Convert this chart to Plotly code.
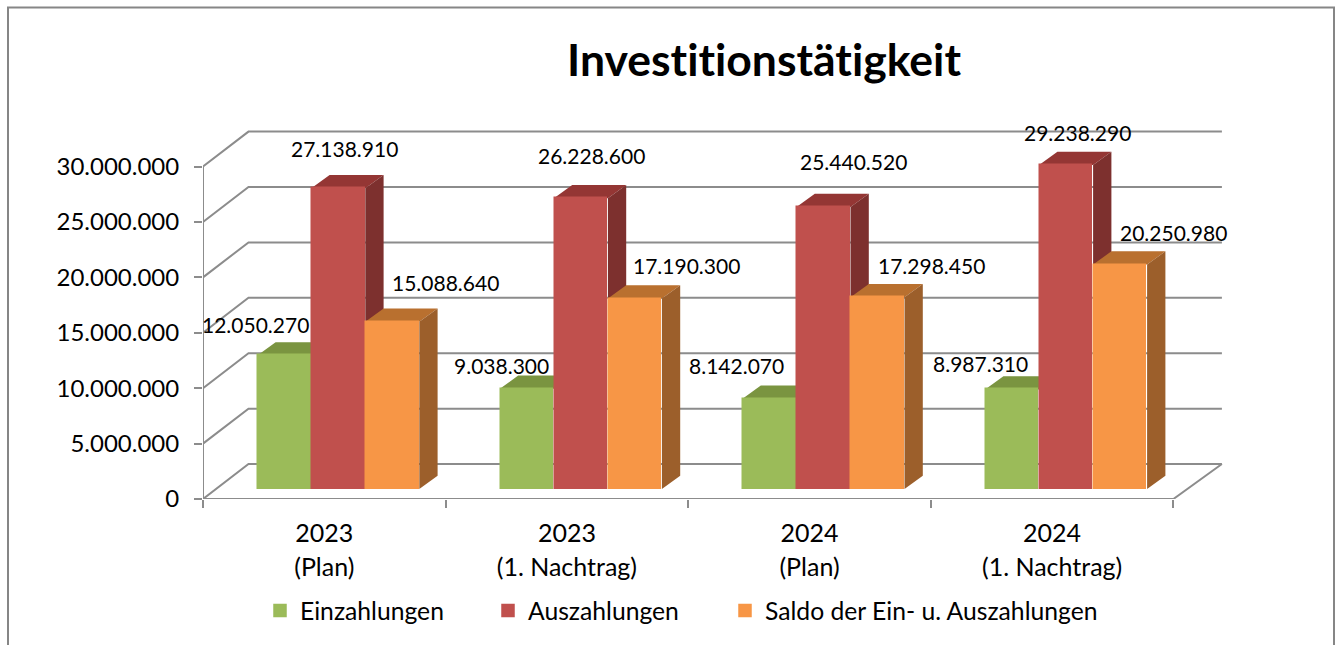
import plotly.graph_objects as go

# ---- data ----
line1 = ["2023", "2023", "2024", "2024"]
line2 = ["(Plan)", "(1. Nachtrag)", "(Plan)", "(1. Nachtrag)"]
einzahlungen = [12050270, 9038300, 8142070, 8987310]
auszahlungen = [27138910, 26228600, 25440520, 29238290]
saldo = [15088640, 17190300, 17298450, 20250980]
names = ["Einzahlungen", "Auszahlungen", "Saldo der Ein- u. Auszahlungen"]
y_ticks = [0, 5000000, 10000000, 15000000, 20000000, 25000000, 30000000]
y_labels = ["0", "5.000.000", "10.000.000", "15.000.000", "20.000.000", "25.000.000", "30.000.000"]

# ---- styles / layout geometry ----
W, H = 1341, 645
L, R, T, B = 203.0, 1226.0, 126.7, 499.3   # plot box in px
CAT = 242.6                                 # px per category
PXM = 11.1 / 1e6                            # px per unit value
def dxu(px): return px / CAT
def dyu(px): return px / PXM
x_max = dxu(R - L); y_max = dyu(B - T)
wall_dx, wall_dy = dxu(45.5), dyu(35)
wall_right = 4 + dxu(48.5)
base_dx, base_dy = dxu(14), dyu(10)
depth_dx, depth_dy = dxu(18.3), dyu(13.3)
bar_w = dxu(54)
GRID = "#8c8c8c"
front = ["#9BBB59", "#C0504D", "#F79646"]
top_c = ["#7A9440", "#943634", "#B9702F"]
side_c = ["#76923C", "#7D302E", "#9C5F2B"]
series = [einzahlungen, auszahlungen, saldo]
legend_w = [183, 192, 345]
# label offsets from bar top centre, px
lab_dx = [[-29, -25, -33, -32], [6, 11, 30, 11], [53, 52, 54, 53]]
lab_dy = [[-31, -23, -33, -26], [-40, -43, -46, -32], [-39, -33, -32, -32]]
FONT = "Lato"

fig = go.Figure()

# back wall grid, side wall and floor
gx, gy = [], []
for v in y_ticks:
    gx += [0, wall_dx, wall_right, None]
    gy += [v, v + wall_dy, v + wall_dy, None]
gx += [0, 0, None, 0, 4, wall_right]
gy += [0, 30000000, None, 0, 0, wall_dy]
fig.add_trace(go.Scatter(x=gx, y=gy, mode="lines", line=dict(color=GRID, width=2), cliponaxis=False,
                         showlegend=False, hoverinfo="skip"))

# tops and sides
for k, vals in enumerate(series):
    tx, ty, sx, sy = [], [], [], []
    for i, v in enumerate(vals):
        x0 = i + 0.5 + base_dx + (k - 1.5) * bar_w
        x1 = x0 + bar_w
        t = v + base_dy
        tx += [x0, x1, x1 + depth_dx, x0 + depth_dx, x0, None]
        ty += [t, t, t + depth_dy, t + depth_dy, t, None]
        sx += [x1, x1 + depth_dx, x1 + depth_dx, x1, x1, None]
        sy += [base_dy, base_dy + depth_dy, t + depth_dy, t, base_dy, None]
    fig.add_trace(go.Scatter(x=tx, y=ty, mode="none", fill="toself", fillcolor=top_c[k],
                             showlegend=False, hoverinfo="skip"))
    fig.add_trace(go.Scatter(x=sx, y=sy, mode="none", fill="toself", fillcolor=side_c[k],
                             showlegend=False, hoverinfo="skip"))

# front faces
for k, vals in enumerate(series):
    xs = [i + 0.5 + base_dx + (k - 1) * bar_w for i in range(4)]
    fig.add_trace(go.Bar(x=xs, y=vals, base=[base_dy] * 4, width=bar_w - dxu(1.5), name=names[k],
                         legendwidth=legend_w[k],
                         marker=dict(color=front[k], line=dict(color=front[k], width=1.5)),
                         xaxis="x2", yaxis="y2"))

# data labels
for k, vals in enumerate(series):
    for i, v in enumerate(vals):
        fig.add_annotation(x=i + 0.5 + base_dx + (k - 1) * bar_w, y=v + base_dy, xref="x", yref="y",
                           text=f"{v:,}".replace(",", "."), showarrow=False,
                           xshift=lab_dx[k][i], yshift=-lab_dy[k][i], xanchor="center", yanchor="middle",
                           font=dict(family=FONT, size=21, color="black"))

def px(x): return (x - L) / (R - L)
def py(y): return 1 - (y - T) / (B - T)
fig.add_shape(type="path", xref="paper", yref="paper",
              path=f"M {px(8)} {py(646)} L {px(8)} {py(7)} L {px(1334)} {py(7)} L {px(1334)} {py(646)}",
              line=dict(color="#868686", width=2))

fig.update_layout(
    width=W, height=H, autosize=False,
    margin=dict(l=L, r=W - R, t=T, b=H - B, pad=0, autoexpand=False),
    paper_bgcolor="white", plot_bgcolor="white", barmode="overlay", bargap=0,
    font=dict(family=FONT, color="black"),
    title=dict(text="<b>Investitionstätigkeit</b>", x=764 / W, y=1 - 60 / H, xanchor="center", yanchor="middle",
               xref="container", yref="container", font=dict(family=FONT, size=44.5, color="black")),
    xaxis=dict(range=[0, x_max], tickvals=[i + 0.5 for i in range(4)], ticktext=line1, ticks="", automargin=False,
               showgrid=False, zeroline=False, showline=False, tickfont=dict(size=25), ticklabelstandoff=17,
               minor=dict(tickvals=[0, 1, 2, 3, 4], ticks="outside", ticklen=8, tickwidth=2, tickcolor=GRID, showgrid=False)),
    yaxis=dict(range=[0, y_max], tickvals=y_ticks, ticktext=y_labels, ticks="outside", ticklen=8, tickwidth=2, automargin=False,
               ticklabelstandoff=10, tickcolor=GRID, showgrid=False, zeroline=False, showline=False, tickfont=dict(size=24)),
    xaxis2=dict(overlaying="x", range=[0, x_max], tickvals=[i + 0.5 for i in range(4)], ticktext=line2, ticks="", automargin=False,
                side="bottom", showgrid=False, zeroline=False, showline=False, tickfont=dict(size=25), ticklabelstandoff=51),
    yaxis2=dict(overlaying="y", range=[0, y_max], showticklabels=False, ticks="", showgrid=False, automargin=False,
                zeroline=False, showline=False),
    legend=dict(orientation="h", xref="container", yref="container", x=260 / W, y=1 - 588 / H,
                xanchor="left", yanchor="top", font=dict(size=24.7), traceorder="normal",
                bgcolor="rgba(0,0,0,0)", itemclick=False, itemdoubleclick=False),
)
page_js = ("document.body.style.margin='0';document.documentElement.style.overflow='hidden';"
           "var s=document.createElement('style');s.textContent='text{font-variant-ligatures:none !important}';"
           "document.head.appendChild(s);")
fig.write_html("out.html", post_script=page_js, config={"displayModeBar": False})
